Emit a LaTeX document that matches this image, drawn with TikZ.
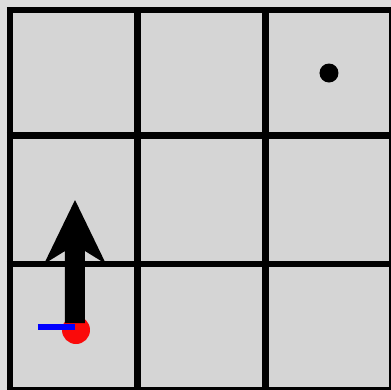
\documentclass[tikz,border=0pt]{standalone}
\usepackage{tikz}

\definecolor{bggray}{RGB}{221,221,221}
\definecolor{cellgray}{RGB}{213,213,213}
\definecolor{agentred}{RGB}{250,10,10}

\begin{document}
\begin{tikzpicture}[x=0.025cm, y=-0.025cm]
		\useasboundingbox (0, 0) rectangle (391, 390);
		\fill [bggray] (0, 0) rectangle (391, 390);
		% cells of the 3x3 world
		\fill [cellgray] (10, 10) rectangle (392, 391);
		\foreach \x in {10, 137.5, 265.5, 392}
			\draw [line width=4.3pt] (\x, 7) -- (\x, 393);
		\foreach \y in {10, 135.5, 264, 390}
			\draw [line width=4.3pt] (7, \y) -- (395, \y);
		% goal in the top right cell
		\fill [black] (329, 73) circle (9.5);
		% agent: red body, blue heading mark
		\fill [agentred] (76, 330) circle (14);
		\draw [blue, line width=4pt] (38, 327) -- (75, 327);
		% action arrow, pointing up (head with a slight notch)
		\fill [black] (65, 323) -- (85, 323) -- (85, 251) -- (106, 264) -- (75, 200) -- (44, 264) -- (65, 251) -- cycle;
	\end{tikzpicture}
\end{document}
